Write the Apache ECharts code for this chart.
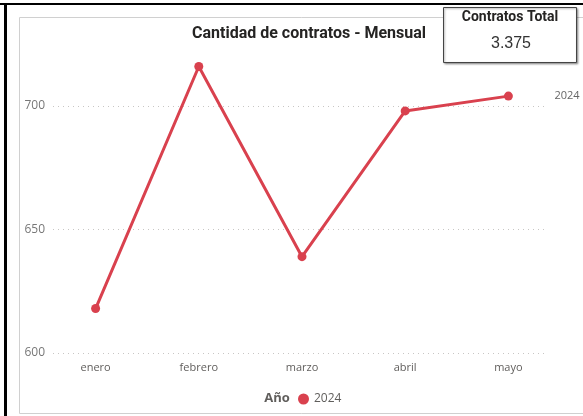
<!DOCTYPE html>
<html>
<head>
<meta charset="utf-8">
<script src="https://cdn.jsdelivr.net/npm/echarts@6/dist/echarts.min.js"></script>
<style>
html,body{margin:0;padding:0;background:#fff;}
#chart{width:583px;height:416px;}
</style>
</head>
<body>
<div id="chart"></div>
<script>
var months = ['enero', 'febrero', 'marzo', 'abril', 'mayo'];
var values2024 = [618, 716, 639, 698, 704];
var seriesName = '2024';
var yMin = 600, yMax = 720, yInterval = 50;
var cardTitle = 'Contratos Total';
var cardValue = '3.375';
var chartTitle = 'Cantidad de contratos - Mensual';
var legendTitle = 'Año';

var lineColor = '#D9414E';
var chart = echarts.init(document.getElementById('chart'), null, {renderer: 'canvas'});
var gridTop = 56.6, gridBottom = 63;

chart.setOption({
  animation: false,
  backgroundColor: '#fff',
  title: {
    text: chartTitle,
    left: 304,
    top: 21,
    textAlign: 'center',
    textStyle: {fontFamily: 'Roboto', fontWeight: 'bold', fontSize: 16, color: '#252423'}
  },
  legend: {
    data: [seriesName],
    left: 293,
    top: 388,
    icon: 'circle',
    itemWidth: 11,
    itemHeight: 11,
    itemGap: 2,
    textStyle: {fontFamily: 'Open Sans', fontSize: 12, color: '#605E5C'}
  },
  grid: [
    {left: 44, right: 23, top: gridTop, bottom: gridBottom},
    {left: 53, right: 35, top: gridTop, bottom: gridBottom}
  ],
  xAxis: [
    {
      type: 'category', gridIndex: 0, data: months, boundaryGap: true,
      axisLine: {show: false}, axisTick: {show: false},
      axisLabel: {color: '#605E5C', fontFamily: 'Open Sans', fontSize: 11, margin: 9}
    },
    {type: 'value', gridIndex: 1, min: 0, max: 1, show: false}
  ],
  yAxis: [
    {type: 'value', gridIndex: 0, min: yMin, max: yMax, interval: yInterval, show: false},
    {
      type: 'value', gridIndex: 1, min: yMin, max: yMax, interval: yInterval,
      axisLine: {show: false}, axisTick: {show: false},
      axisLabel: {color: '#777', fontFamily: 'Open Sans', fontSize: 12, margin: 8, showMaxLabel: false},
      splitLine: {show: true, showMaxLine: false, lineStyle: {color: '#C8C6C4', type: [1, 4], width: 1}}
    }
  ],
  series: [{
    name: seriesName,
    type: 'line',
    xAxisIndex: 0, yAxisIndex: 0,
    data: values2024,
    symbol: 'circle',
    symbolSize: 9,
    lineStyle: {color: lineColor, width: 3},
    itemStyle: {color: lineColor},
    endLabel: {show: true, formatter: '{a}', distance: 46, color: '#666', fontFamily: 'Open Sans', fontSize: 11}
  }],
  graphic: [
    {type: 'rect', shape: {x: 0, y: 3, width: 583, height: 2}, style: {fill: '#000'}, z: 10},
    {type: 'rect', shape: {x: 4, y: 3, width: 3, height: 413}, style: {fill: '#000'}, z: 10},
    {type: 'rect', shape: {x: 19.5, y: 17.5, width: 580, height: 396}, style: {fill: null, stroke: '#D0D0D0', lineWidth: 1}, z: 1},
    {type: 'rect', shape: {x: 443.5, y: 7.5, width: 133, height: 55}, style: {fill: '#fff', stroke: '#444', lineWidth: 1, shadowBlur: 2, shadowColor: 'rgba(0,0,0,0.35)', shadowOffsetX: 1, shadowOffsetY: 1}, z: 20},
    {type: 'text', x: 510, y: 17, z: 21, style: {text: cardTitle, textAlign: 'center', textVerticalAlign: 'middle', font: 'bold 14px "Liberation Sans Narrow", Roboto, sans-serif', fill: '#252423'}},
    {type: 'text', x: 511, y: 44, z: 21, style: {text: cardValue, textAlign: 'center', textVerticalAlign: 'middle', font: '16px "Liberation Sans", Arial, sans-serif', fill: '#333'}},
    {type: 'text', x: 277, y: 398, z: 21, style: {text: legendTitle, textAlign: 'center', textVerticalAlign: 'middle', font: 'bold 13px "Open Sans", sans-serif', fill: '#605E5C'}}
  ]
});
</script>
</body>
</html>
